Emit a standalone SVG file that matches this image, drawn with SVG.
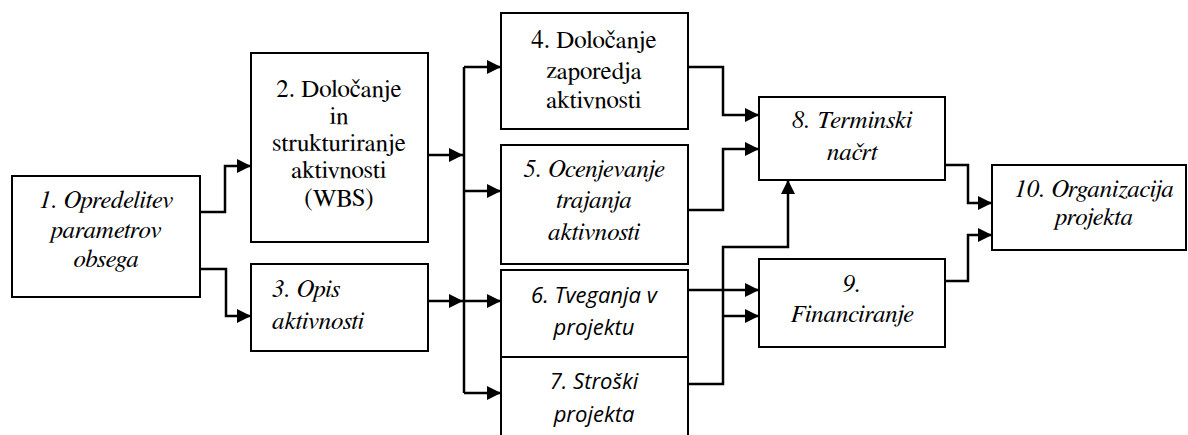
<svg xmlns="http://www.w3.org/2000/svg" width="1188" height="435" viewBox="0 0 1188 435">
<style>
.box{fill:#fff;stroke:#000;stroke-width:2}
.ln{fill:none;stroke:#000;stroke-width:2.5}
.ar{marker-end:url(#ah)}
.t{font-family:FreeSerif,'Liberation Serif','Times New Roman',serif;font-size:25px;fill:#000;text-anchor:middle}
.i{font-style:italic}
.c{font-family:'Open Sans',Lato,'Liberation Sans',sans-serif;font-style:italic;font-size:22px;fill:#000;text-anchor:middle}
</style>
<defs>
<marker id="ah" markerUnits="userSpaceOnUse" viewBox="0 0 14 14" refX="14" refY="7" markerWidth="14" markerHeight="14" orient="auto">
<path d="M0,0 L14,7 L0,14 Z" fill="#000"/>
</marker>
</defs>
<g id="connectors">
<path class="ln ar" d="M200,212 H225 V166 H251"/>
<path class="ln ar" d="M200,269 H226 V316 H251"/>
<path class="ln ar" d="M428,155 H463"/>
<path class="ln ar" d="M428,301 H463"/>
<path class="ln" d="M464,67 V393"/>
<path class="ln ar" d="M464,67 H501"/>
<path class="ln ar" d="M464,191 H501"/>
<path class="ln ar" d="M464,301 H501"/>
<path class="ln ar" d="M464,393 H501"/>
<path class="ln ar" d="M688,67 H723 V115 H759"/>
<path class="ln ar" d="M688,210 H723 V149 H759"/>
<path class="ln ar" d="M688,290 H759"/>
<path class="ln ar" d="M688,384 H723 V247 H788 V180"/>
<path class="ln ar" d="M723,316 H759"/>
<path class="ln ar" d="M945,165 H968 V203 H992"/>
<path class="ln ar" d="M945,281 H968 V235 H992"/>
</g>
<g id="n1">
<rect class="box" x="12" y="176" width="188" height="121"/>
<text class="t i" x="106" y="208">1. Opredelitev</text>
<text class="t i" x="106" y="238">parametrov</text>
<text class="t i" x="106" y="267">obsega</text>
</g>
<g id="n2">
<rect class="box" x="251" y="53" width="177" height="189"/>
<text class="t" x="339" y="97">2. Določanje</text>
<text class="t" x="339" y="124">in</text>
<text class="t" x="339" y="151">strukturiranje</text>
<text class="t" x="339" y="178">aktivnosti</text>
<text class="t" x="339" y="206">(WBS)</text>
</g>
<g id="n3">
<rect class="box" x="251" y="264" width="177" height="87"/>
<text class="t i" x="272" y="297" style="text-anchor:start">3. Opis</text>
<text class="t i" x="272" y="329" style="text-anchor:start">aktivnosti</text>
</g>
<g id="n4">
<rect class="box" x="501" y="13" width="187" height="116"/>
<text class="t" x="594" y="48">4. Določanje</text>
<text class="t" x="594" y="79">zaporedja</text>
<text class="t" x="594" y="108">aktivnosti</text>
</g>
<g id="n5">
<rect class="box" x="501" y="145" width="187" height="119"/>
<text class="t i" x="594" y="177">5. Ocenjevanje</text>
<text class="t i" x="594" y="208">trajanja</text>
<text class="t i" x="594" y="240">aktivnosti</text>
</g>
<g id="n6">
<rect class="box" x="501" y="270" width="187" height="87"/>
<text class="c" x="594" y="303">6. Tveganja v</text>
<text class="c" x="594" y="335">projektu</text>
</g>
<g id="n7">
<rect class="box" x="501" y="357" width="187" height="92"/>
<text class="c" x="594" y="389">7. Stroški</text>
<text class="c" x="594" y="422">projekta</text>
</g>
<g id="n8">
<rect class="box" x="759" y="97" width="186" height="83"/>
<text class="t i" x="852" y="128">8. Terminski</text>
<text class="t i" x="852" y="160">načrt</text>
</g>
<g id="n9">
<rect class="box" x="759" y="259" width="186" height="88"/>
<text class="t i" x="852" y="292">9.</text>
<text class="t i" x="852" y="322">Financiranje</text>
</g>
<g id="n10">
<rect class="box" x="992" y="165" width="194" height="85"/>
<text class="t i" x="1094" y="197">10. Organizacija</text>
<text class="t i" x="1094" y="225">projekta</text>
</g>
</svg>
